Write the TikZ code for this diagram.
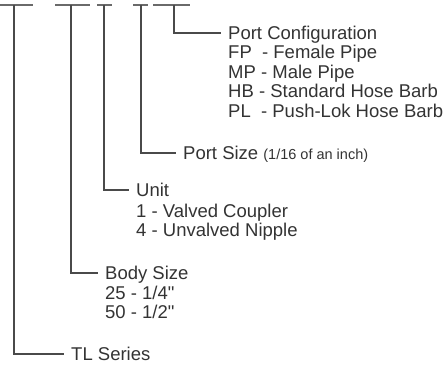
\documentclass[tikz,border=0pt]{standalone}
\usepackage{fontspec}
\setmainfont{Liberation Sans}
\usepackage{xcolor}
\usepackage{tikz}
\usetikzlibrary{positioning}
\definecolor{leadgray}{HTML}{4A4A4A}
\definecolor{bargray}{HTML}{6A6A6A}
\definecolor{textgray}{HTML}{333333}
\tikzset{
  codebar/.style={draw=bargray, line width=1.8pt},
  leader/.style={draw=leadgray, line width=1.6pt},
  heading/.style={anchor=west, inner xsep=7pt, inner ysep=0pt, text height=13pt, text depth=0pt, text=textgray, font=\fontsize{18.5}{19.5}\selectfont},
  item/.style={anchor=base west, inner sep=0pt, text=textgray, font=\fontsize{18.5}{19.5}\selectfont}
}

\begin{document}
\begin{tikzpicture}[x=1pt, y=-1pt]
  \useasboundingbox (0,0) rectangle (443,366);

  % underlines of the part number
  \coordinate (tlA) at (0,5);     \coordinate (tlB) at (33,5);
  \coordinate (bodyA) at (55,5);  \coordinate (bodyB) at (90,5);
  \coordinate (unitA) at (97,5);  \coordinate (unitB) at (112,5);
  \coordinate (sizeA) at (133,5); \coordinate (sizeB) at (148,5);
  \coordinate (cfgA) at (153,5);  \coordinate (cfgB) at (190,5);
  \draw[codebar] (tlA) -- (tlB);
  \draw[codebar] (bodyA) -- (bodyB);
  \draw[codebar] (unitA) -- (unitB);
  \draw[codebar] (sizeA) -- (sizeB);
  \draw[codebar] (cfgA) -- (cfgB);

  % headings
  \node[heading] (cfg) at (221,33) {Port Configuration};
  \node[heading] (size) at (176,153) {Port Size {\fontsize{14.5}{15}\selectfont (1/16 of an inch)}};
  \node[heading] (unit) at (129,190) {Unit};
  \node[heading] (body) at (98,273) {Body Size};
  \node[heading] (tl) at (64,354) {TL Series};

  % choices
  \node[item] (fp) at (228,59) {FP~~- Female Pipe};
  \node[item] (mp) at (228,78.5) {MP - Male Pipe};
  \node[item] (hb) at (228,98) {HB - Standard Hose Barb};
  \node[item] (pl) at (228,117.5) {PL~~- Push-Lok Hose Barb};
  \node[item] (valved) at (136,217) {1 - Valved Coupler};
  \node[item] (unvalved) at (136,236.5) {4 - Unvalved Nipple};
  \node[item] (quarter) at (105,299) {25 - 1/4\textquotedbl};
  \node[item] (half) at (105,318.5) {50 - 1/2\textquotedbl};

  % leaders
  \draw[leader] (174,5) |- (cfg.west);
  \draw[leader] (141,5) |- (size.west);
  \draw[leader] (104,5) |- (unit.west);
  \draw[leader] (71,5) |- (body.west);
  \draw[leader] (14,5) |- (tl.west);
\end{tikzpicture}
\end{document}
